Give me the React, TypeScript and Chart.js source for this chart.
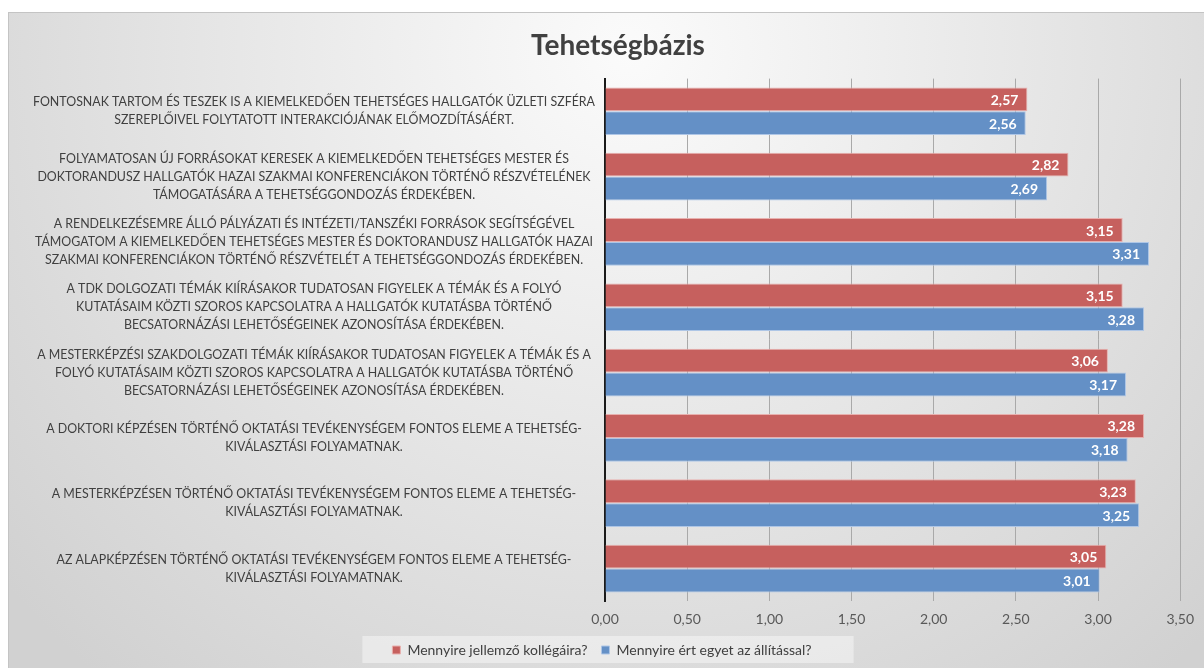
import React, { useEffect, useRef } from "react";
import { Chart, registerables } from "chart.js";

Chart.register(...registerables);

const TITLE = "Tehetségbázis";

const categories: string[][] = [
  ["FONTOSNAK TARTOM ÉS TESZEK IS A KIEMELKEDŐEN TEHETSÉGES HALLGATÓK ÜZLETI SZFÉRA", "SZEREPLŐIVEL FOLYTATOTT INTERAKCIÓJÁNAK ELŐMOZDÍTÁSÁÉRT."],
  ["FOLYAMATOSAN ÚJ FORRÁSOKAT KERESEK A KIEMELKEDŐEN TEHETSÉGES MESTER ÉS", "DOKTORANDUSZ HALLGATÓK HAZAI SZAKMAI KONFERENCIÁKON TÖRTÉNŐ RÉSZVÉTELÉNEK", "TÁMOGATÁSÁRA A TEHETSÉGGONDOZÁS ÉRDEKÉBEN."],
  ["A RENDELKEZÉSEMRE ÁLLÓ PÁLYÁZATI ÉS INTÉZETI/TANSZÉKI FORRÁSOK SEGÍTSÉGÉVEL", "TÁMOGATOM A KIEMELKEDŐEN TEHETSÉGES MESTER ÉS DOKTORANDUSZ HALLGATÓK HAZAI", "SZAKMAI KONFERENCIÁKON TÖRTÉNŐ RÉSZVÉTELÉT A TEHETSÉGGONDOZÁS ÉRDEKÉBEN."],
  ["A TDK DOLGOZATI TÉMÁK KIÍRÁSAKOR TUDATOSAN FIGYELEK A TÉMÁK ÉS A FOLYÓ", "KUTATÁSAIM KÖZTI SZOROS KAPCSOLATRA A HALLGATÓK KUTATÁSBA TÖRTÉNŐ", "BECSATORNÁZÁSI LEHETŐSÉGEINEK AZONOSÍTÁSA ÉRDEKÉBEN."],
  ["A MESTERKÉPZÉSI SZAKDOLGOZATI TÉMÁK KIÍRÁSAKOR TUDATOSAN FIGYELEK A TÉMÁK ÉS A", "FOLYÓ KUTATÁSAIM KÖZTI SZOROS KAPCSOLATRA A HALLGATÓK KUTATÁSBA TÖRTÉNŐ", "BECSATORNÁZÁSI LEHETŐSÉGEINEK AZONOSÍTÁSA ÉRDEKÉBEN."],
  ["A DOKTORI KÉPZÉSEN TÖRTÉNŐ OKTATÁSI TEVÉKENYSÉGEM FONTOS ELEME A TEHETSÉG-", "KIVÁLASZTÁSI FOLYAMATNAK."],
  ["A MESTERKÉPZÉSEN TÖRTÉNŐ OKTATÁSI TEVÉKENYSÉGEM FONTOS ELEME A TEHETSÉG-", "KIVÁLASZTÁSI FOLYAMATNAK."],
  ["AZ ALAPKÉPZÉSEN TÖRTÉNŐ OKTATÁSI TEVÉKENYSÉGEM FONTOS ELEME A TEHETSÉG-", "KIVÁLASZTÁSI FOLYAMATNAK."],
];

const seriesNames = ["Mennyire jellemző kollégáira?", "Mennyire ért egyet az állítással?"];
const jellemzo = [2.57, 2.82, 3.15, 3.15, 3.06, 3.28, 3.23, 3.05];
const egyetert = [2.56, 2.69, 3.31, 3.28, 3.17, 3.18, 3.25, 3.01];

const xMin = 0;
const xMax = 3.5;
const xStep = 0.5;

const RED = "#c6605e";
const RED_BORDER = "#e8b0ae";
const BLUE = "#6490c6";
const BLUE_BORDER = "#aec6e6";
const FONT = "Lato, 'Open Sans', sans-serif";

const fmt = (v: number) => v.toFixed(2).replace(".", ",");

const bgPlugin = {
  id: "bgPlugin",
  beforeDraw(chart: any) {
    const { ctx, width, height } = chart;
    ctx.save();
    const g = ctx.createRadialGradient(width * 0.52, 40, 0, width * 0.52, 40, 820);
    g.addColorStop(0, "#fbfbfb");
    g.addColorStop(1, "#d1d1d1");
    ctx.fillStyle = g;
    ctx.fillRect(0, 0, width, height);
    ctx.strokeStyle = "#c4c4c4";
    ctx.lineWidth = 1;
    ctx.beginPath();
    ctx.moveTo(0, 0.5);
    ctx.lineTo(width, 0.5);
    ctx.moveTo(0.5, 0);
    ctx.lineTo(0.5, height);
    ctx.stroke();
    const lg = chart.legend;
    if (lg && lg.legendHitBoxes && lg.legendHitBoxes.length) {
      const boxes = lg.legendHitBoxes;
      let l = Infinity, r = -Infinity, t = Infinity, b = -Infinity;
      boxes.forEach((h: any) => {
        l = Math.min(l, h.left);
        r = Math.max(r, h.left + h.width);
        t = Math.min(t, h.top);
        b = Math.max(b, h.top + h.height);
      });
      ctx.fillStyle = "rgba(245,245,245,0.55)";
      ctx.fillRect(l - 30, t - 7, r - l + 72, b - t + 13);
    }
    ctx.restore();
  },
  afterDraw(chart: any) {
    const tb = chart.titleBlock;
    if (!tb) return;
    const { ctx, width } = chart;
    ctx.save();
    ctx.font = `bold 28px ${FONT}`;
    ctx.fillStyle = "#404040";
    ctx.textAlign = "center";
    ctx.textBaseline = "middle";
    const pad = 17;
    const y = tb.top + pad + 28 * 1.2 / 2;
    ctx.fillText(TITLE, width / 2 + 12, y);
    ctx.restore();
  },
};

const labelPlugin = {
  id: "valueLabels",
  afterDatasetsDraw(chart: any) {
    const { ctx } = chart;
    ctx.save();
    ctx.font = `bold 14px ${FONT}`;
    ctx.fillStyle = "#ffffff";
    ctx.textAlign = "right";
    ctx.textBaseline = "middle";
    chart.data.datasets.forEach((ds: any, di: number) => {
      const meta = chart.getDatasetMeta(di);
      meta.data.forEach((el: any, i: number) => {
        ctx.fillText(fmt(ds.data[i]), el.x - 9, el.y + 1);
      });
    });
    ctx.restore();
  },
};

export default function App() {
  const ref = useRef<HTMLCanvasElement | null>(null);

  useEffect(() => {
    if (!ref.current) return;
    const chart = new Chart(ref.current, {
      type: "bar",
      data: {
        labels: categories,
        datasets: [
          {
            label: seriesNames[0],
            data: jellemzo,
            backgroundColor: RED,
            borderColor: RED_BORDER,
            borderWidth: 1,
            categoryPercentage: 0.73,
            barPercentage: 1,
          },
          {
            label: seriesNames[1],
            data: egyetert,
            backgroundColor: BLUE,
            borderColor: BLUE_BORDER,
            borderWidth: 1,
            categoryPercentage: 0.73,
            barPercentage: 1,
          },
        ],
      },
      options: {
        indexAxis: "y",
        animation: false,
        responsive: true,
        maintainAspectRatio: false,
        layout: { padding: { left: 6, right: 14, top: 0, bottom: 1 } },
        plugins: {
          title: {
            display: true,
            text: TITLE,
            color: "rgba(0,0,0,0)",
            font: { family: FONT, size: 28, weight: "bold" },
            padding: { top: 17, bottom: 16 },
          },
          legend: {
            position: "bottom",
            labels: {
              color: "#404040",
              font: { family: FONT, size: 14 },
              boxWidth: 8,
              boxHeight: 8,
              padding: 14,
            },
          },
          tooltip: { enabled: false },
        },
        scales: {
          x: {
            min: xMin,
            max: xMax,
            afterFit: (scale: any) => {
              scale.height = scale.height - 9;
            },
            ticks: {
              stepSize: xStep,
              color: "#595959",
              font: { family: FONT, size: 14 },
              padding: 10,
              callback: (v: any) => fmt(Number(v)),
            },
            grid: { color: "#a9a9a9", drawTicks: false },
            border: { display: false },
          },
          y: {
            afterFit: (scale: any) => {
              scale.width = 591;
            },
            ticks: {
              crossAlign: "center",
              color: "#404040",
              font: { family: FONT, size: 12.4, lineHeight: 1.45 },
              padding: 10,
              autoSkip: false,
            },
            grid: { display: false, drawTicks: false },
            border: { display: true, color: "#1a1a1a", width: 2 },
          },
        },
      },
      plugins: [bgPlugin, labelPlugin],
    });
    return () => chart.destroy();
  }, []);

  return (
    <div style={{ position: "absolute", left: 8, top: 12, width: 1196, height: 656 }}>
      <canvas ref={ref} />
    </div>
  );
}
